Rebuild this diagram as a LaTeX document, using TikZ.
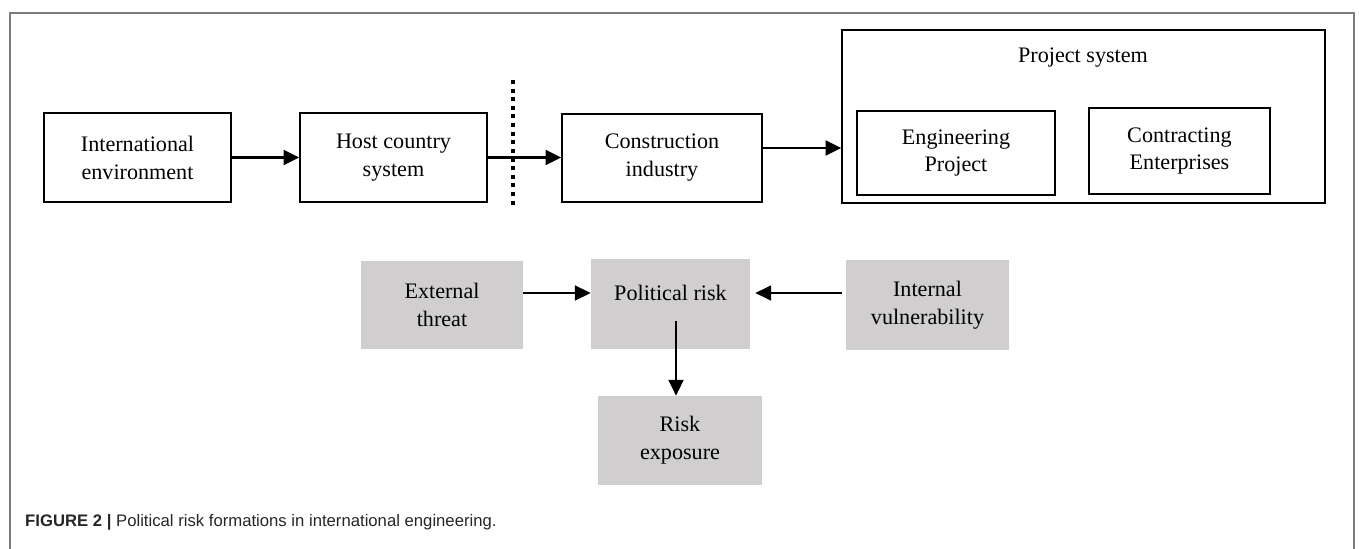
\documentclass[tikz,border=0pt]{standalone}
\usepackage{fontspec}
\setmainfont{Liberation Serif}
\newfontfamily\capfont{Liberation Sans}
\usetikzlibrary{arrows.meta, positioning}

\definecolor{boxgray}{RGB}{208,206,206}
\definecolor{framegray}{RGB}{125,125,125}

\tikzset{
  wbox/.style={draw, line width=0.75pt, align=center, inner sep=0pt},
  gbox/.style={fill=boxgray, align=center, inner sep=0pt},
  arr/.style={-{Triangle[length=9pt,width=8.5pt]}, line width=1.4pt},
}

\begin{document}
\begin{tikzpicture}[font=\fontsize{12.6}{15.9}\selectfont]
       \useasboundingbox (0,0) rectangle (27.18,10.96);
       % outer frame, open at the bottom
       \draw[framegray, line width=0.9pt] (0.2,-0.5) -- (0.2,10.70) -- (27.08,10.70) -- (27.08,-0.5);

       % upper chain
       \node[wbox, minimum width=3.74cm, minimum height=1.78cm] (intl) at (2.75,7.81) {International\\environment};
       \node[wbox, minimum width=3.74cm, minimum height=1.78cm] (host) at (7.87,7.81) {Host country\\system};
       \node[wbox, minimum width=4cm, minimum height=1.76cm] (constr) at (13.24,7.80) {Construction\\industry};
       \node[wbox, minimum width=9.66cm, minimum height=3.46cm] (proj) at (21.67,8.63) {};
       \node (projlbl) at (21.66,9.80) {Project system};
       \node[wbox, minimum width=3.96cm, minimum height=1.68cm] (eng) at (19.12,7.90) {Engineering\\Project};
       \node[wbox, minimum width=3.62cm, minimum height=1.72cm] (contr) at (23.59,7.94) {Contracting\\Enterprises};

       \draw[arr] (intl) -- (host);
       \draw[arr] (host.east) -- (host.east -| constr.west);
       \coordinate (a0) at ([yshift=0.2cm]constr.east);
       \draw[arr] (a0) -- (a0 -| proj.west);
       %\draw[dashed] (10.26,9.36) -- (10.26,6.86);
       \draw[line width=2.3pt, dash pattern=on 2.3pt off 2.6pt] (10.26,9.36) -- (10.26,6.86);

       % lower part
       \node[gbox, minimum width=3.24cm, minimum height=1.76cm] (ext) at (8.84,4.86) {External\\threat};
       \node[gbox, minimum width=3.18cm, minimum height=1.80cm, text height=9pt, text depth=13.5pt] (pol) at (13.41,4.88) {Political risk};
       \node[gbox, minimum width=3.26cm, minimum height=1.80cm] (intv) at (18.55,4.86) {Internal\\vulnerability};
       \node[gbox, minimum width=3.28cm, minimum height=1.78cm] (risk) at (13.6,2.15) {Risk\\exposure};

       \coordinate (a1) at ([yshift=0.24cm]ext.east);
       \draw[arr] (a1) -- (a1 -| pol.west);
       \coordinate (a2) at ([xshift=-0.08cm,yshift=0.24cm]intv.west);
       \draw[arr, shorten >=0.1cm] (a2) -- (a2 -| pol.east);
       \coordinate (a3) at ([xshift=0.11cm,yshift=0.56cm]pol.south);
       \draw[arr] (a3) -- (a3 |- risk.north);

       \node[anchor=base west, font=\capfont\fontsize{9.5}{11}\selectfont, text=black!85] (cap) at (0.38,0.44) {\textbf{FIGURE 2 |} Political risk formations in international engineering.};
\end{tikzpicture}
\end{document}
